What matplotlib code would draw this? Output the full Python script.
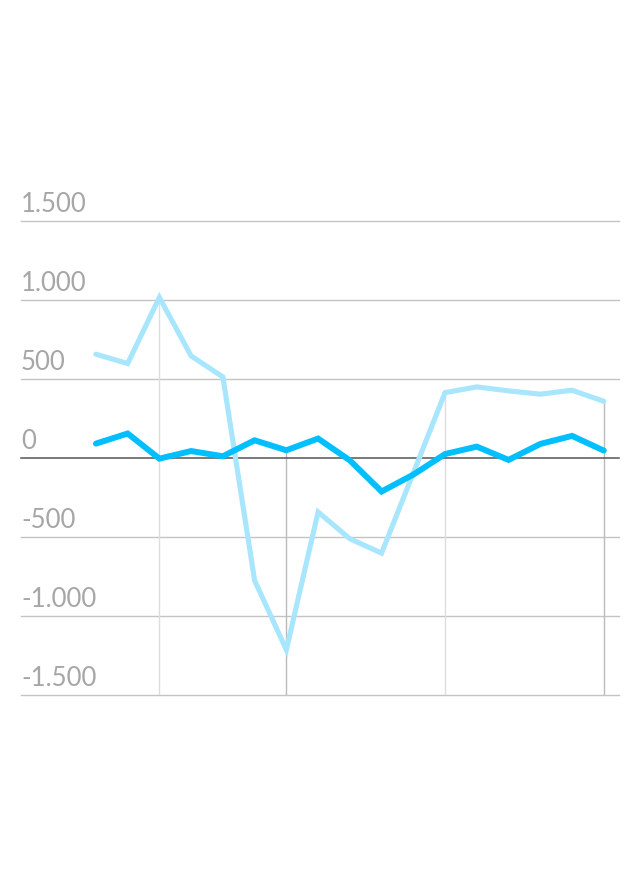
import matplotlib
matplotlib.use("Agg")
import matplotlib.pyplot as plt
import matplotlib.transforms as mtransforms
import numpy as np

series_light = [657, 598, 1016, 646, 513, -775, -1214, -342, -511, -602, -95, 414, 450, 425, 404, 429, 359]
series_dark = [91, 155, -4, 44, 11, 112, 49, 123, -15, -212, -105, 25, 72, -12, 89, 140, 47]
y_ticks = [1500, 1000, 500, 0, -500, -1000, -1500]
y_tick_labels = ["1.500", "1.000", "500", "0", "-500", "-1.000", "-1.500"]
vline_idx = [2, 6, 11, 16]
vline_colors = ["#dddddd", "#bbbbbb", "#dddddd", "#bbbbbb"]

x = np.arange(len(series_light))

fig = plt.figure(figsize=(6.4, 8.9), dpi=100)
ax = fig.add_axes([21/640, (890-695)/890, (619-21)/640, (695-221)/890])
ax.set_xlim(-2.36, 16.48)
ax.set_ylim(-1500, 1500)
for s in ax.spines.values():
    s.set_visible(False)
ax.set_xticks([])
ax.set_yticks([])

for v in y_ticks:
    if v == 0:
        ax.axhline(v, color="#555555", lw=1.1, zorder=2, clip_on=False)
    else:
        ax.axhline(v, color="#c4c4c4", lw=1.0, zorder=1, clip_on=False)

for i, c in zip(vline_idx, vline_colors):
    top = max(series_light[i], series_dark[i])
    ax.vlines(x[i], -1500, top, color=c, lw=1.0, zorder=1)

ax.plot(x, series_light, color="#a8e6fe", lw=3.7, solid_capstyle="round", solid_joinstyle="miter", zorder=3)
ax.plot(x, series_dark, color="#00bfff", lw=4.3, solid_capstyle="round", solid_joinstyle="miter", zorder=4)

trans = mtransforms.offset_copy(ax.get_yaxis_transform(), fig=fig, x=0, y=6.8, units="points")
for v, lab in zip(y_ticks, y_tick_labels):
    ax.text(0, v, lab, transform=trans, ha="left", va="baseline",
            fontsize=18.5, color="#a6a6a6", family=["Lato", "DejaVu Sans"], fontweight="normal")

fig.savefig("out.png", dpi=100)
